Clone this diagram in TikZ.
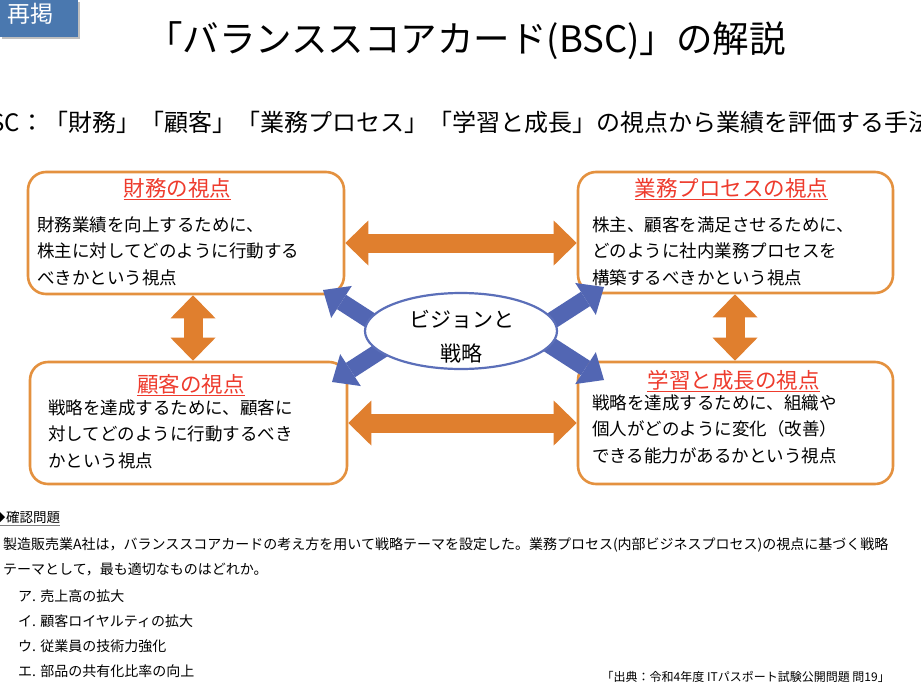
\documentclass[tikz,border=0pt]{standalone}
\usepackage{fontspec}
\setmainfont{Noto Sans CJK JP}
\usetikzlibrary{arrows.meta,shapes.geometric,calc}
\definecolor{boxorange}{HTML}{E4913F}
\definecolor{arroworange}{HTML}{E07F2E}
\definecolor{ttlred}{HTML}{EE3B2D}
\definecolor{ellblue}{HTML}{5B6FB9}
\definecolor{arrowblue}{HTML}{5266B3}
\definecolor{tagblue}{HTML}{4A78AF}
\tikzset{
  pbox/.style={draw=boxorange, line width=2.6pt, rounded corners=18pt, fill=white},
  ttl/.style={text=ttlred, inner sep=0pt, font=\fontsize{21.5}{21.5}\selectfont},
  ttlline/.style={draw=ttlred, line width=1pt},
  bodytxt/.style={inner sep=0pt, align=left, font=\fontsize{17.5}{26.7}\selectfont},
  oarrow/.style={draw=arroworange, line width=19pt,
    {Triangle[length=23pt,width=45pt,line width=0pt]}-{Triangle[length=23pt,width=45pt,line width=0pt]}},
  barrow/.style={draw=arrowblue, line width=17pt,
    -{Triangle[length=22pt,width=38pt,line width=0pt]}},
  qtxt/.style={inner sep=0pt, anchor=base west, font=\fontsize{14}{14}\selectfont},
}
\begin{document}
\begin{tikzpicture}[x=1pt,y=-1pt]
\clip (0,0) rectangle (921,691);
\useasboundingbox (0,0) rectangle (921,691);
\fill[white] (0,0) rectangle (921,691);

% tag
\fill[black!25] (2,2) rectangle (80,39);
\node[fill=tagblue, minimum width=78pt, minimum height=37pt, inner sep=0pt] (tag) at (39,18.5) {};
\node[text=white, inner sep=0pt, anchor=base, font=\fontsize{23}{23}\selectfont] (tagtxt) at (30,22) {再掲};

% title and subtitle
\node[inner sep=0pt, anchor=base, font=\fontsize{36.5}{36.5}\selectfont] (title) at (466,52) {「バランススコアカード(BSC)」の解説};
\node[inner sep=0pt, anchor=base west, font=\fontsize{24}{24}\selectfont] (sub) at (-25,131) {BSC：「財務」「顧客」「業務プロセス」「学習と成長」の視点から業績を評価する手法};

% boxes
\node[pbox, minimum width=316pt, minimum height=122pt] (tl) at (186,233) {};
\node[pbox, minimum width=315pt, minimum height=121pt] (tr) at (735.5,232.5) {};
\node[pbox, minimum width=317pt, minimum height=122pt] (bl) at (188.5,423) {};
\node[pbox, minimum width=315pt, minimum height=122pt] (br) at (735.5,423) {};

% orange arrows
\coordinate (hT) at (0,243);
\coordinate (hB) at (0,423);
\coordinate (vL) at (193,0);
\coordinate (vR) at (735,0);
\draw[oarrow] (tl.east |- hT) -- (tr.west |- hT);
\draw[oarrow] (bl.east |- hB) -- (br.west |- hB);
\draw[oarrow] (vL |- tl.south) -- (vL |- bl.north);
\draw[oarrow] (vR |- tr.south) -- (vR |- br.north);

% blue arrows
\coordinate (sTL) at (385,330);
\coordinate (eTL) at (323,290);
\coordinate (sBL) at (394,342);
\coordinate (eBL) at (332,382);
\coordinate (sTR) at (542,327);
\coordinate (eTR) at (604,287);
\coordinate (sBR) at (542,340);
\coordinate (eBR) at (604,380);
\draw[barrow] (sTL) -- (eTL);
\draw[barrow] (sBL) -- (eBL);
\draw[barrow] (sTR) -- (eTR);
\draw[barrow] (sBR) -- (eBR);

% ellipse
\node[ellipse, draw=ellblue, line width=2.2pt, fill=white, minimum width=192pt, minimum height=76pt, inner sep=0pt] (vis) at (461,331) {};
\node[inner sep=0pt, anchor=base, font=\fontsize{21}{21}\selectfont] (vt1) at (461.5,327) {ビジョンと};
\node[inner sep=0pt, anchor=base, font=\fontsize{21}{21}\selectfont] (vt2) at (461.5,361) {戦略};

% titles
\node[ttl, anchor=base] (tlt) at (177.5,196) {財務の視点};
\node[ttl, anchor=base] (trt) at (731.5,196) {業務プロセスの視点};
\node[ttl, anchor=base] (blt) at (191,392) {顧客の視点};
\node[ttl, anchor=base] (brt) at (733.5,388) {学習と成長の視点};
\foreach \t in {tlt,trt,blt,brt}{
  \draw[ttlline] ([yshift=-3pt]\t.base west) -- ([yshift=-3pt]\t.base east);
}

% bodies
\node[bodytxt, anchor=north west] (tlb) at (37,214) {\rule{0pt}{17pt}財務業績を向上するために、\\株主に対してどのように行動する\\べきかという視点};
\node[bodytxt, anchor=north west] (trb) at (592,214) {\rule{0pt}{17pt}株主、顧客を満足させるために、\\どのように社内業務プロセスを\\構築するべきかという視点};
\node[bodytxt, anchor=north west] (blb) at (48,397) {\rule{0pt}{17pt}戦略を達成するために、顧客に\\対してどのように行動するべき\\かという視点};
\node[bodytxt, anchor=north west] (brb) at (592,392) {\rule{0pt}{17pt}戦略を達成するために、組織や\\個人がどのように変化（改善）\\できる能力があるかという視点};

% question
\fill (-5,517) -- (0,512) -- (5,517) -- (0,522) -- cycle;
\node[inner sep=0pt, anchor=base west, font=\fontsize{13.5}{13.5}\selectfont] (kq) at (6,522) {確認問題};
\coordinate (ulL) at (0,525.5);
\draw[gray, line width=1pt] (ulL) -- (kq.base east |- ulL);
\node[qtxt] (q1) at (3,549) {製造販売業A社は，バランススコアカードの考え方を用いて戦略テーマを設定した。業務プロセス(内部ビジネスプロセス)の視点に基づく戦略};
\node[qtxt] (q2) at (3,574) {テーマとして，最も適切なものはどれか。};
\node[qtxt] (qa) at (18,601) {ア. 売上高の拡大};
\node[qtxt] (qb) at (18,626) {イ. 顧客ロイヤルティの拡大};
\node[qtxt] (qc) at (18,651) {ウ. 従業員の技術力強化};
\node[qtxt] (qd) at (18,676) {エ. 部品の共有化比率の向上};
\node[inner sep=0pt, anchor=base east, font=\fontsize{12}{12}\selectfont] (src) at (890,681) {「出典：令和4年度 ITパスポート試験公開問題 問19」};
\end{tikzpicture}
\end{document}
